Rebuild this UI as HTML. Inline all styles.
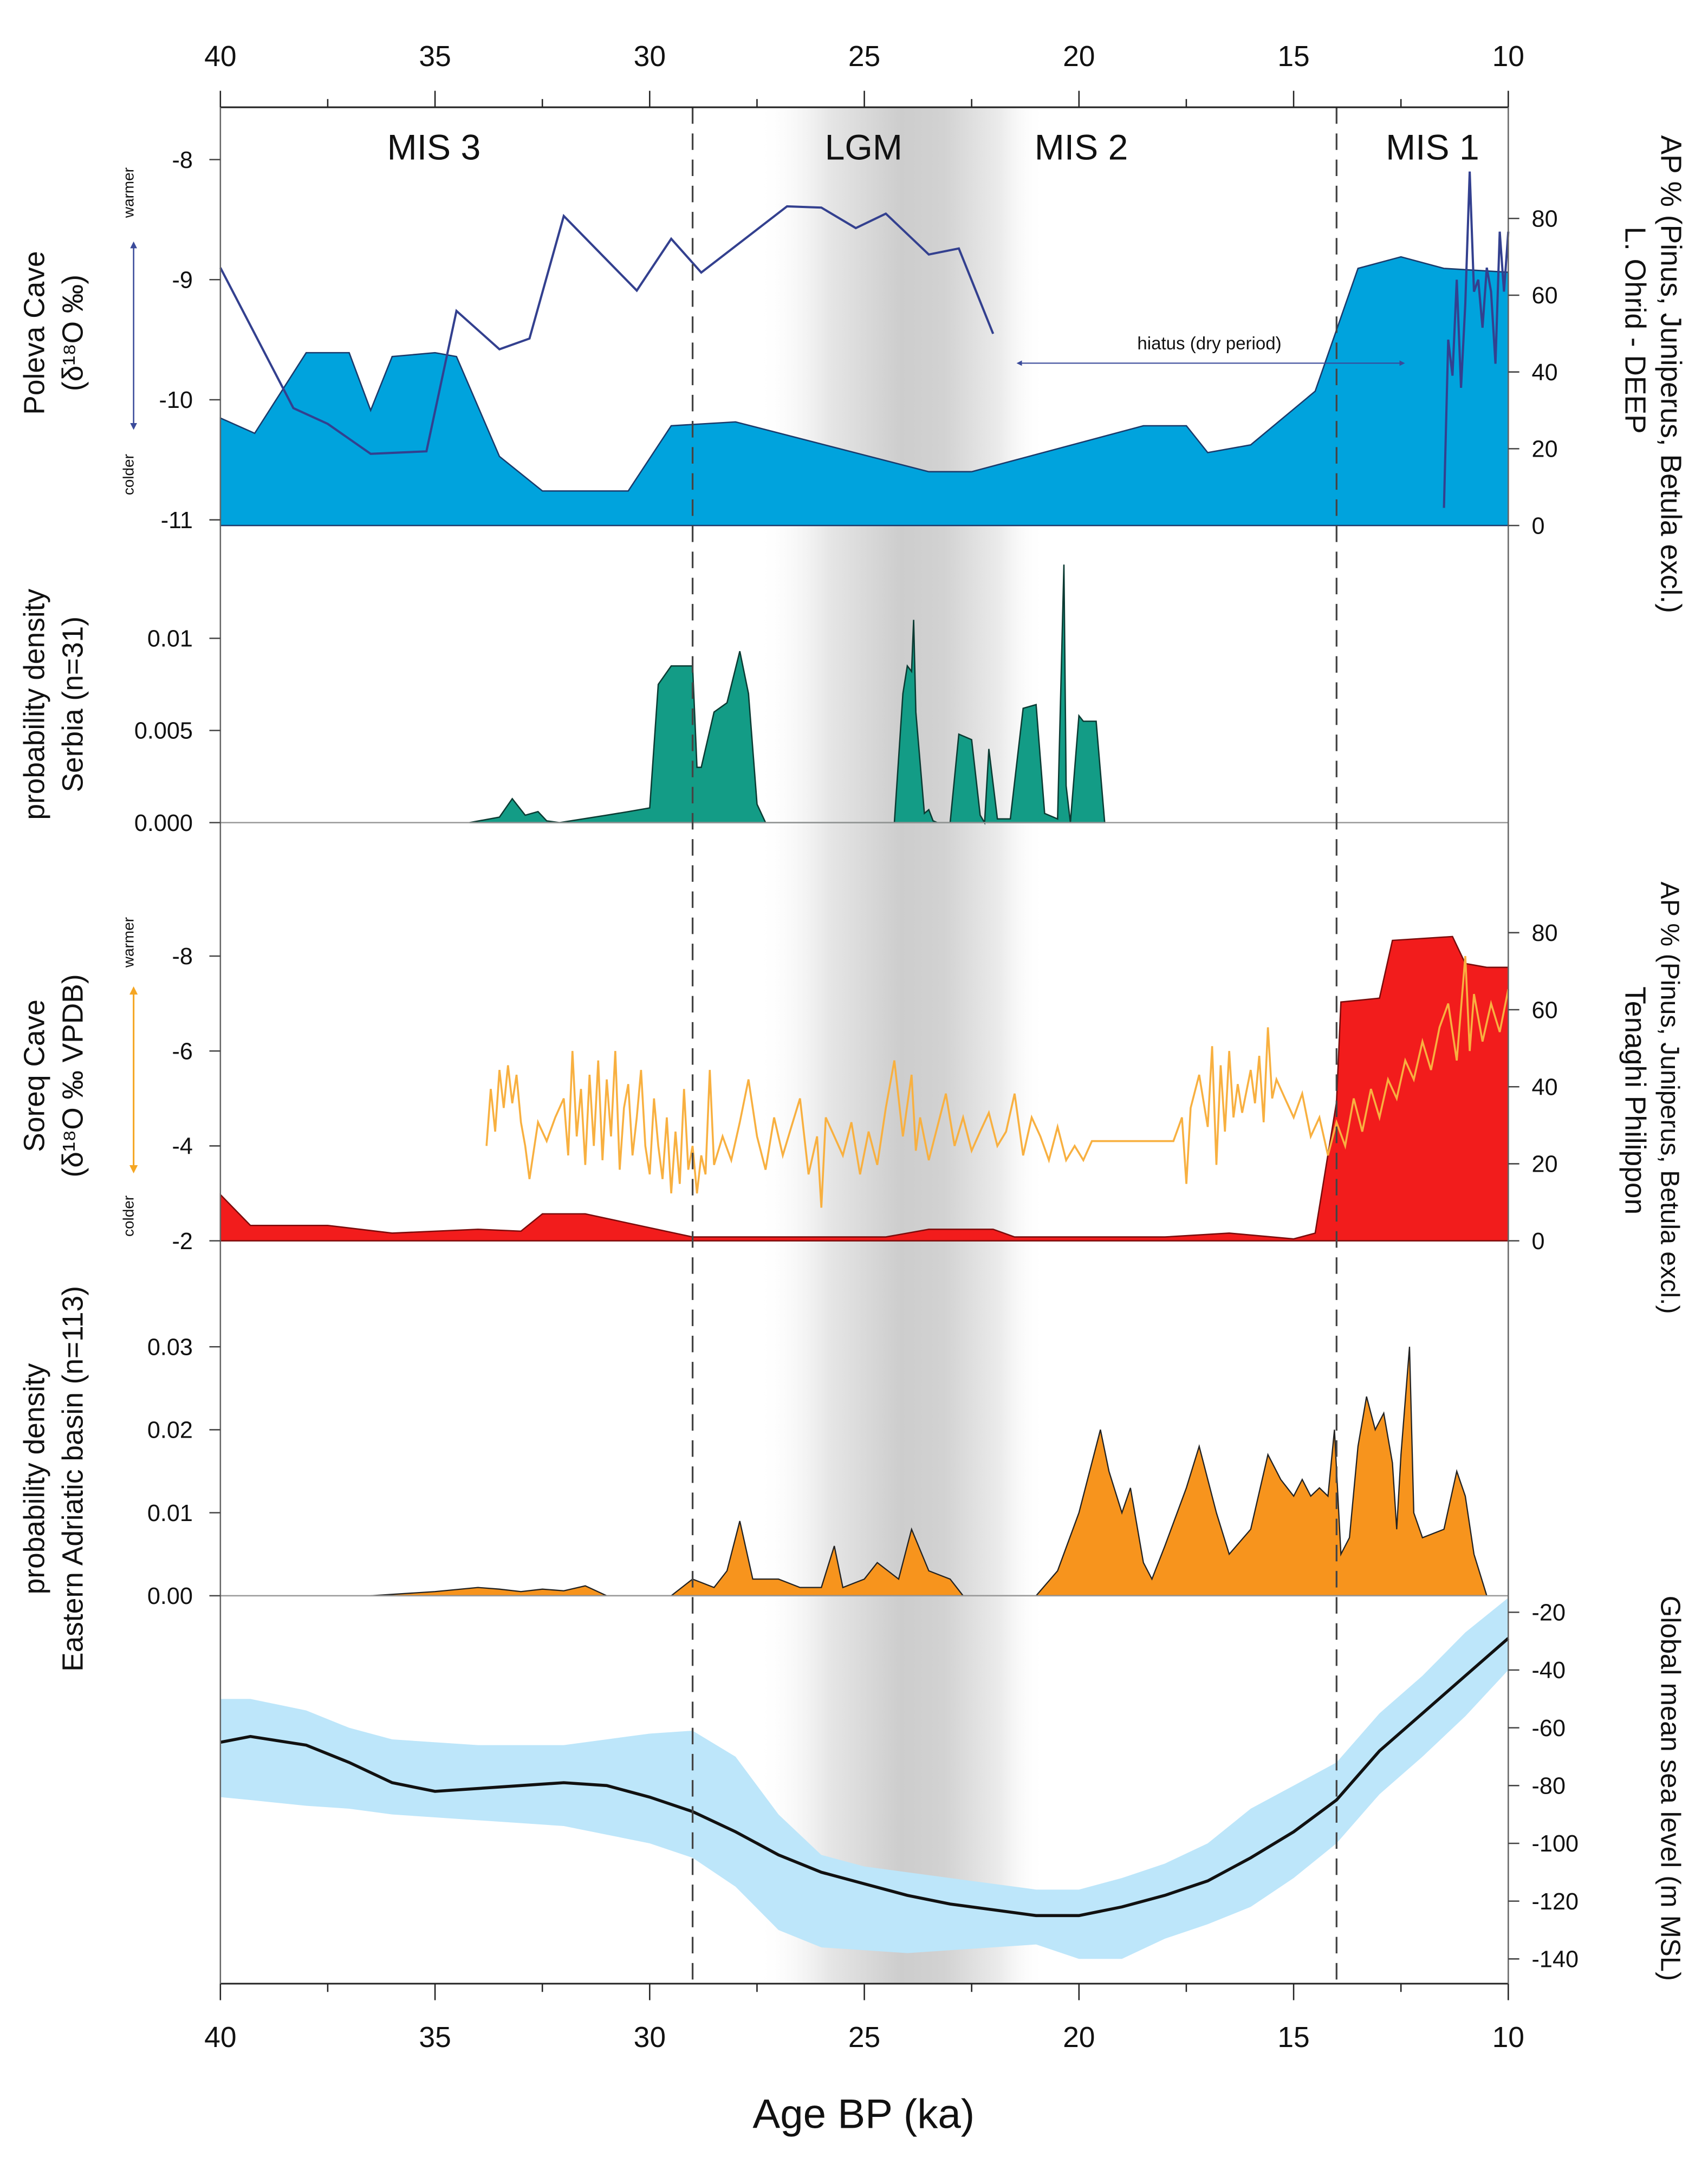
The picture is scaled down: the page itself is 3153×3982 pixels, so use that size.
<!DOCTYPE html>
<html><head><meta charset="utf-8"><style>
html,body{margin:0;padding:0;background:#fff;}
svg{display:block;font-family:"Liberation Sans",sans-serif;}
</style></head><body>
<svg id="chart" width="3153" height="3982" viewBox="0 0 1240 1568" preserveAspectRatio="none" xmlns="http://www.w3.org/2000/svg">
<defs>
<linearGradient id="lgm" x1="0" x2="1" y1="0" y2="0">
<stop offset="0" stop-color="#fff" stop-opacity="0"/>
<stop offset="0.25" stop-color="#e6e6e6"/>
<stop offset="0.5" stop-color="#cdcdcd"/>
<stop offset="0.65" stop-color="#d2d2d2"/>
<stop offset="0.85" stop-color="#ececec"/>
<stop offset="1" stop-color="#fff" stop-opacity="0"/>
</linearGradient>
<marker id="ah" viewBox="0 0 10 10" refX="5" refY="5" markerWidth="5" markerHeight="5" orient="auto-start-reverse"><path d="M0,0L10,5L0,10z" fill="#3a4a9a"/></marker>
<marker id="ao" viewBox="0 0 10 10" refX="5" refY="5" markerWidth="5" markerHeight="5" orient="auto-start-reverse"><path d="M0,0L10,5L0,10z" fill="#f5a623"/></marker>
</defs>
<g id="root"></g>
</svg>
<script>
// ---- data ----
const ageTicks = [40,35,30,25,20,15,10];
const ohridAge = [40,39.2,38,37.5,37,36.5,36,35,34.5,33.5,32.5,31,30.5,29.5,28,23.5,22.5,18.5,17.5,17,16,14.5,13.5,12.5,11.5,10];
const ohridAP  = [28,24,45,45,45,30,44,45,44,18,9,9,9,26,27,14,14,26,26,19,21,35,67,70,67,66];
const polevaAge = [40,38.3,37.5,36.5,35.2,34.5,33.5,32.8,32,30.3,29.5,28.8,26.8,26,25.2,24.5,23.5,22.8,22];
const polevaD18O = [-8.9,-10.07,-10.2,-10.45,-10.43,-9.26,-9.58,-9.49,-8.47,-9.09,-8.66,-8.94,-8.39,-8.4,-8.57,-8.45,-8.79,-8.74,-9.45];
const poleva2Age = [11.5,11.4,11.3,11.2,11.1,11.0,10.9,10.8,10.7,10.6,10.5,10.4,10.3,10.2,10.1,10.0];
const poleva2D18O = [-10.9,-9.5,-9.8,-9.0,-9.9,-9.2,-8.1,-9.1,-9.0,-9.4,-8.9,-9.1,-9.7,-8.6,-9.1,-8.6];
const serbiaAge = [34.2,33.5,33.2,32.9,32.6,32.4,32.1,31.0,30.5,30.0,29.8,29.5,29.0,28.9,28.8,28.5,28.2,27.9,27.7,27.5,27.3,24.3,24.1,24.0,23.9,23.85,23.8,23.6,23.5,23.4,23.3,23.0,22.8,22.5,22.3,22.2,22.1,21.9,21.6,21.3,21.0,20.8,20.5,20.35,20.3,20.2,20.0,19.9,19.6,19.4];
const serbiaDens = [0,0.0003,0.0013,0.0004,0.0006,0.0001,0,0.0004,0.0006,0.0008,0.0075,0.0085,0.0085,0.003,0.003,0.006,0.0065,0.0093,0.007,0.001,0,0,0.007,0.0085,0.0082,0.011,0.006,0.0005,0.0007,0.0001,0,0,0.0048,0.0045,0.0004,0,0.004,0.0002,0.0002,0.0062,0.0064,0.0005,0.0002,0.014,0.002,0,0.0058,0.0055,0.0055,0];
const tenaghiAge = [40,39.3,37.5,36,34,33,32.5,31.5,29,24.5,23.5,22,21.5,18,16.5,15,14.5,14.0,13.9,13,12.7,11.3,11.0,10.5,10];
const tenaghiAP = [12,4,4,2,3,2.5,7,7,1,1,3,3,1,1,2,0.5,2,36,62,63,78,79,72,71,71];
const soreqAge = [33.8,33.7,33.6,33.5,33.4,33.3,33.2,33.1,33.0,32.9,32.8,32.6,32.4,32.2,32.0,31.9,31.8,31.7,31.6,31.5,31.4,31.3,31.2,31.1,31.0,30.9,30.8,30.7,30.6,30.5,30.4,30.3,30.2,30.1,30.0,29.9,29.8,29.7,29.6,29.5,29.4,29.3,29.2,29.1,29.0,28.9,28.8,28.7,28.6,28.5,28.3,28.1,27.9,27.7,27.5,27.3,27.1,26.9,26.7,26.5,26.3,26.1,26.0,25.9,25.7,25.5,25.3,25.1,24.9,24.7,24.5,24.3,24.1,23.9,23.8,23.7,23.5,23.3,23.1,22.9,22.7,22.5,22.3,22.1,21.9,21.7,21.5,21.3,21.1,20.9,20.7,20.5,20.3,20.1,19.9,19.7,17.8,17.6,17.5,17.4,17.2,17.0,16.9,16.8,16.7,16.6,16.5,16.4,16.3,16.2,16.0,15.9,15.8,15.7,15.6,15.5,15.4,15.2,15.0,14.8,14.6,14.4,14.2,14.0,13.8,13.6,13.4,13.2,13.0,12.8,12.6,12.4,12.2,12.0,11.8,11.6,11.4,11.2,11.0,10.9,10.8,10.6,10.4,10.2,10.0];
const soreqD18O = [-4.0,-5.2,-4.3,-5.6,-4.8,-5.7,-4.9,-5.5,-4.5,-4.0,-3.3,-4.5,-4.1,-4.6,-5.0,-3.8,-6.0,-4.2,-5.2,-3.6,-5.5,-4.0,-5.8,-3.7,-5.4,-4.2,-6.0,-3.5,-4.8,-5.3,-3.8,-4.6,-5.6,-4.0,-3.4,-5.0,-4.0,-3.3,-4.6,-3.0,-4.3,-3.2,-5.2,-3.5,-4.0,-3.0,-3.8,-3.4,-5.6,-3.6,-4.2,-3.7,-4.5,-5.4,-4.2,-3.5,-4.6,-3.8,-4.4,-5.0,-3.4,-4.2,-2.7,-4.6,-4.2,-3.8,-4.5,-3.4,-4.3,-3.6,-4.8,-5.8,-4.2,-5.5,-3.9,-4.6,-3.7,-4.4,-5.1,-4.0,-4.6,-3.9,-4.3,-4.7,-4.0,-4.3,-5.1,-3.8,-4.6,-4.2,-3.7,-4.4,-3.7,-4.0,-3.7,-4.1,-4.1,-4.6,-3.2,-4.8,-5.5,-4.4,-6.1,-3.6,-5.7,-4.3,-6.0,-4.6,-5.3,-4.7,-5.6,-4.9,-5.9,-4.5,-6.5,-5.0,-5.4,-5.0,-4.6,-5.1,-4.2,-4.6,-3.8,-4.5,-4.0,-5.0,-4.3,-5.2,-4.6,-5.4,-5.0,-5.8,-5.4,-6.2,-5.6,-6.5,-7.0,-5.8,-8.0,-6.0,-7.2,-6.2,-7.0,-6.4,-7.3];
const adriaAge = [36.5,35,34,33.5,33,32.5,32,31.5,31,29.5,29,28.5,28.2,27.9,27.6,27,26.5,26,25.7,25.5,25,24.7,24.2,23.9,23.5,23,22.7,21,20.5,20,19.5,19.3,19,18.8,18.5,18.3,18,17.5,17.2,16.8,16.5,16,15.6,15.3,15,14.8,14.6,14.4,14.2,14.05,13.9,13.7,13.5,13.3,13.1,12.9,12.7,12.6,12.5,12.3,12.2,12,11.5,11.2,11,10.8,10.5];
const adriaDens = [0,0.0005,0.001,0.0008,0.0005,0.0008,0.0006,0.0012,0,0,0.002,0.001,0.003,0.009,0.002,0.002,0.001,0.001,0.006,0.001,0.002,0.004,0.002,0.008,0.003,0.002,0,0,0.003,0.01,0.02,0.015,0.01,0.013,0.004,0.002,0.006,0.013,0.018,0.01,0.005,0.008,0.017,0.014,0.012,0.014,0.012,0.013,0.012,0.02,0.005,0.007,0.018,0.024,0.02,0.022,0.016,0.008,0.017,0.03,0.01,0.007,0.008,0.015,0.012,0.005,0];
const slAge = [40,39.3,38,37,36,35,34,33,32,31,30,29,28,27,26,25,24,23,22,21,20,19,18,17,16,15,14,13,12,11,10];
const slMean = [-65,-63,-66,-72,-79,-82,-81,-80,-79,-80,-84,-89,-96,-104,-110,-114,-118,-121,-123,-125,-125,-122,-118,-113,-105,-96,-85,-68,-55,-42,-29];
const slUpper = [-50,-50,-54,-60,-64,-65,-66,-66,-66,-64,-62,-61,-70,-90,-104,-108,-110,-112,-114,-116,-116,-112,-107,-100,-88,-80,-72,-55,-42,-27,-15];
const slLower = [-84,-85,-87,-88,-90,-91,-92,-93,-94,-97,-100,-105,-115,-130,-136,-137,-138,-137,-136,-135,-140,-140,-133,-128,-122,-112,-100,-83,-70,-56,-40];

// ---- scales ----
const X = a => 160 + (40 - a) * (935 / 30);
const yPol = v => 116 + (-8 - v) * 87.3;
const yOhr = v => 382 - v * 2.79;
const ySer = v => 598 - v * 13400;
const ySor2 = v => 902 + (v + 2) * 34.5;
const yTen = v => 902 - v * 2.8;
const yAdr = v => 1160 - v * 6033;
const ySL = v => 1172 + (-20 - v) * 2.1;

const NS = "http://www.w3.org/2000/svg";
const root = document.getElementById('root');
function mk(tag, attrs, parent) {
  const e = document.createElementNS(NS, tag);
  for (const k in attrs) e.setAttribute(k, attrs[k]);
  (parent || root).appendChild(e);
  return e;
}
function linePts(ax, ay, fy) { return ax.map((a, i) => X(a).toFixed(1) + ',' + fy(ay[i]).toFixed(1)).join(' '); }
function areaPts(ax, ay, fy, base) { return X(ax[0]).toFixed(1) + ',' + base + ' ' + linePts(ax, ay, fy) + ' ' + X(ax[ax.length - 1]).toFixed(1) + ',' + base; }
function txt(s, x, y, size, opts) {
  const t = mk('text', Object.assign({x: x, y: y, 'font-size': size, fill: '#111'}, opts || {}));
  t.textContent = s;
  return t;
}

// LGM band
let e = mk('rect', {x: X(27.5), y: 78, width: X(20.8) - X(27.5), height: 1364, fill: 'url(#lgm)'});



// Panel 1
e = mk('polygon', {points: areaPts(ohridAge, ohridAP, yOhr, 382), fill: '#00a3dd', stroke: '#1b3a6b', 'stroke-width': 1});


e = mk('polyline', {points: linePts(polevaAge, polevaD18O, yPol), fill: 'none', stroke: '#33408f', 'stroke-width': 1.6});


e = mk('polyline', {points: linePts(poleva2Age, poleva2D18O, yPol), fill: 'none', stroke: '#33408f', 'stroke-width': 1.6});


e = mk('line', {x1: 740, y1: 264, x2: 1018, y2: 264, stroke: '#3a4a9a', 'stroke-width': 0.8, 'marker-start': 'url(#ah)', 'marker-end': 'url(#ah)'});


e = txt('hiatus (dry period)', 878, 254, 13, {'text-anchor': 'middle'});



// Panel 2
e = mk('polygon', {points: areaPts(serbiaAge, serbiaDens, ySer, 598), fill: '#139c86', stroke: '#0b3b33', 'stroke-width': 1});



// Panel 3
e = mk('polygon', {points: areaPts(tenaghiAge, tenaghiAP, yTen, 902), fill: '#f21c1c', stroke: '#7a0c0c', 'stroke-width': 1});


e = mk('polyline', {points: linePts(soreqAge, soreqD18O, ySor2), fill: 'none', stroke: '#f8b040', 'stroke-width': 1.4});



// Panel 4
e = mk('polygon', {points: areaPts(adriaAge, adriaDens, yAdr, 1160), fill: '#f7941d', stroke: '#222', 'stroke-width': 0.9});



// Panel 5
const band = linePts(slAge, slUpper, ySL) + ' ' + slAge.slice().reverse().map((a, i) => X(a).toFixed(1) + ',' + ySL(slLower[slLower.length - 1 - i]).toFixed(1)).join(' ');
e = mk('polygon', {points: band, fill: '#bde6fa'});


e = mk('polyline', {points: linePts(slAge, slMean, ySL), fill: 'none', stroke: '#111', 'stroke-width': 2.2});



// separators
[598, 1160].forEach(y => { mk('line', {x1: 160, y1: y, x2: 1095, y2: y, stroke: '#999', 'stroke-width': 1}); });

// dashed lines
[29, 14].forEach(a => {
  e = mk('line', {x1: X(a), y1: 78, x2: X(a), y2: 1442, stroke: '#444', 'stroke-width': 1.3, 'stroke-dasharray': '12,7'});
  
  
});

// frame axes
mk('line', {x1: 160, y1: 78, x2: 1095, y2: 78, stroke: '#222', 'stroke-width': 1.2});
mk('line', {x1: 160, y1: 1442, x2: 1095, y2: 1442, stroke: '#222', 'stroke-width': 1.2});
mk('line', {x1: 160, y1: 78, x2: 160, y2: 1442, stroke: '#666', 'stroke-width': 1});
mk('line', {x1: 1095, y1: 78, x2: 1095, y2: 1442, stroke: '#666', 'stroke-width': 1});

// age ticks
ageTicks.forEach(a => {
  mk('line', {x1: X(a), y1: 78, x2: X(a), y2: 66, stroke: '#222'});
  mk('line', {x1: X(a), y1: 1442, x2: X(a), y2: 1454, stroke: '#222'});
  e = txt(String(a), X(a), 48, 21, {'text-anchor': 'middle'});
  
  
  e = txt(String(a), X(a), 1488, 21, {'text-anchor': 'middle'});
  
  
});
for (let a = 37.5; a > 10; a -= 5) {
  mk('line', {x1: X(a), y1: 78, x2: X(a), y2: 72, stroke: '#222'});
  mk('line', {x1: X(a), y1: 1442, x2: X(a), y2: 1448, stroke: '#222'});
}
e = txt('Age BP (ka)', 627, 1547, 30, {'text-anchor': 'middle'});



// left ticks
function lTick(y, label, size) {
  mk('line', {x1: 160, y1: y, x2: 152, y2: y, stroke: '#444'});
  if (label !== null) { e = txt(label, 140, y + 6, size || 17, {'text-anchor': 'end'});   }
}
function rTick(y, label) {
  mk('line', {x1: 1095, y1: y, x2: 1103, y2: y, stroke: '#444'});
  e = txt(label, 1112, y + 6, 17, {'text-anchor': 'start'});
  
  
}
[-8, -9, -10, -11].forEach(v => lTick(yPol(v), String(v)));
[0, 20, 40, 60, 80].forEach(v => rTick(yOhr(v), String(v)));
lTick(ySer(0), '0.000'); lTick(ySer(0.005), '0.005'); lTick(ySer(0.01), '0.01');
[-8, -6, -4, -2].forEach(v => lTick(ySor2(v), String(v)));
[0, 20, 40, 60, 80].forEach(v => rTick(yTen(v), String(v)));
lTick(yAdr(0), '0.00'); lTick(yAdr(0.01), '0.01'); lTick(yAdr(0.02), '0.02'); lTick(yAdr(0.03), '0.03');
[-20, -40, -60, -80, -100, -120, -140].forEach(v => rTick(ySL(v), String(v)));

// period labels
[['MIS 3', 315], ['LGM', 627], ['MIS 2', 785], ['MIS 1', 1040]].forEach(p => {
  e = txt(p[0], p[1], 116, 26, {'text-anchor': 'middle'});
  
  
});

// rotated labels
function rot(s, x, y, size, ang, fill) {
  e = txt(s, x, y, size, {'text-anchor': 'middle', transform: 'rotate(' + ang + ' ' + x + ' ' + y + ')', fill: fill || '#111'});
  return e;
}
e = rot('Poleva Cave', 32, 242, 21, -90);  
e = rot('(δ¹⁸O ‰)', 60, 242, 21, -90);  
e = rot('probability density', 32, 512, 21, -90);  
e = rot('Serbia (n=31)', 60, 512, 21, -90);  
e = rot('Soreq Cave', 32, 782, 21, -90);  
e = rot('(δ¹⁸O ‰ VPDB)', 60, 782, 21, -90);  
e = rot('probability density', 32, 1075, 21, -90);  
e = rot('Eastern Adriatic basin (n=113)', 60, 1075, 21, -90);  
e = rot('AP %  (Pinus, Juniperus, Betula excl.)', 1206, 272, 21, 90);  
e = rot('L. Ohrid - DEEP', 1180, 240, 21, 90);  
e = rot('AP % (Pinus, Juniperus, Betula excl.)', 1206, 798, 19, 90);  
e = rot('Tenaghi Philippon', 1180, 800, 21, 90);  
e = rot('Global mean sea level (m MSL)', 1206, 1300, 20, 90);  
e = rot('warmer', 97, 140, 11, -90);  
e = rot('colder', 97, 345, 11, -90);  
e = rot('warmer', 97, 685, 11, -90);  
e = rot('colder', 97, 884, 11, -90);  
e = mk('line', {x1: 97, y1: 178, x2: 97, y2: 310, stroke: '#3a4a9a', 'stroke-width': 1, 'marker-start': 'url(#ah)', 'marker-end': 'url(#ah)'});
 
e = mk('line', {x1: 97, y1: 720, x2: 97, y2: 850, stroke: '#f5a623', 'stroke-width': 1.2, 'marker-start': 'url(#ao)', 'marker-end': 'url(#ao)'});
 
</script>
</body></html>
